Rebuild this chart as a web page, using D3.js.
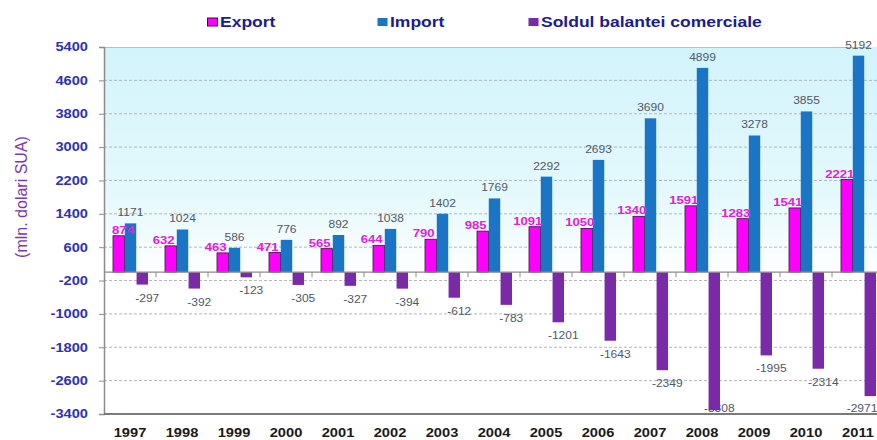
<!DOCTYPE html>
<html>
<head>
<meta charset="utf-8">
<script src="https://cdn.jsdelivr.net/npm/d3@7"></script>
<style>
body{margin:0;background:#fff;overflow:hidden;}
svg{display:block;font-family:Arial,"Liberation Sans",sans-serif;}
</style>
</head>
<body>
<svg id="chart" width="877" height="440"></svg>
<script>
let years=["1997","1998","1999","2000","2001","2002","2003","2004","2005","2006","2007","2008","2009","2010","2011"];
let exportVals=[874,632,463,471,565,644,790,985,1091,1050,1340,1591,1283,1541,2221];
let importVals=[1171,1024,586,776,892,1038,1402,1769,2292,2693,3690,4899,3278,3855,5192];
let soldVals=[-297,-392,-123,-305,-327,-394,-612,-783,-1201,-1643,-2349,-3308,-1995,-2314,-2971];
let yTicks=[-3400,-2600,-1800,-1000,-200,600,1400,2200,3000,3800,4600,5400];
let seriesNames=["Export","Import","Soldul balantei comerciale"];
let colors=["#ff00ff","#1a75c6","#7a2aa6"];

let svg=d3.select("#chart");
let plotL=104,plotT=47,plotB=414;

// the original picture is a bit wider than tall, so texts get widened
function widen(sel,k){
  sel.each(function(){
    let len=this.getComputedTextLength();
    d3.select(this).attr("textLength",len*k).attr("lengthAdjust","spacingAndGlyphs");
  });
}

let x=d3.scaleBand().domain(years).range([plotL,plotL+15*52]).padding(0);
let sub=d3.scaleBand().domain([0,1,2]).range([9,44]).paddingInner(0.03);
let y=d3.scaleLinear().domain([-3400,5400]).range([plotB,plotT]);

// background gradient
let defs=svg.append("defs");
let grad=defs.append("linearGradient").attr("id","bg").attr("x1",0).attr("y1",0).attr("x2",0).attr("y2",1);
grad.append("stop").attr("offset","0%").attr("stop-color","#d2f4fb");
grad.append("stop").attr("offset","40%").attr("stop-color","#e4f9fc");
grad.append("stop").attr("offset","62%").attr("stop-color","#ffffff");
svg.append("rect").attr("x",plotL).attr("y",plotT).attr("width",877-plotL).attr("height",plotB-plotT).attr("fill","url(#bg)");

// grid
svg.append("g").selectAll("line").data(yTicks.slice(1,-1)).enter().append("line")
  .attr("x1",plotL).attr("x2",877).attr("y1",d=>y(d)).attr("y2",d=>y(d))
  .attr("stroke","#b4b8bc").attr("stroke-dasharray","3,2").attr("stroke-width",1);
svg.append("line").attr("x1",plotL).attr("x2",870).attr("y1",plotT+0.5).attr("y2",plotT+0.5).attr("stroke","#bdbdbd");

// y axis
let yAxis=svg.append("g").attr("transform",`translate(${plotL},0)`)
  .call(d3.axisLeft(y).tickValues(yTicks).tickSize(5).tickPadding(11).tickFormat(d=>String(d)));
yAxis.select(".domain").attr("stroke","#8c8c8c").attr("stroke-width",1.5);
yAxis.selectAll(".tick line").attr("stroke","#8c8c8c");
yAxis.selectAll("text").attr("fill","#2e32b0").style("font-size","12px").style("font-weight","bold");
widen(yAxis.selectAll("text"),1.22);

svg.append("text").text("(mln. dolari SUA)")
  .attr("transform","translate(27,197) rotate(-90)").attr("text-anchor","middle")
  .attr("fill","#7a3aa8").style("font-size","16px");

// balance labels sit behind the bars, as in the original
let balLab=svg.append("g").selectAll("text").data(years).enter().append("text").text((d,i)=>soldVals[i])
  .attr("x",(d,i)=>Math.min(x(d)+sub(2)+sub.bandwidth()/2+5,862))
  .attr("y",(d,i)=>Math.min(y(soldVals[i])+17,412))
  .attr("text-anchor","middle").attr("fill","#505866").style("font-size","10px");
widen(balLab,1.2);

// bars
let groups=svg.append("g").selectAll("g").data(years).enter().append("g")
  .attr("transform",d=>`translate(${x(d)},0)`);
groups.append("rect").attr("x",sub(0)).attr("width",sub.bandwidth())
  .attr("y",(d,i)=>y(exportVals[i])).attr("height",(d,i)=>y(0)-y(exportVals[i]))
  .attr("fill",colors[0]).attr("stroke","#3a0a3a").attr("stroke-width",0.8);
groups.append("rect").attr("x",sub(1)).attr("width",sub.bandwidth())
  .attr("y",(d,i)=>y(importVals[i])).attr("height",(d,i)=>y(0)-y(importVals[i]))
  .attr("fill",colors[1]);
groups.append("rect").attr("x",sub(2)).attr("width",sub.bandwidth())
  .attr("y",y(0)).attr("height",(d,i)=>y(soldVals[i])-y(0))
  .attr("fill",colors[2]);

// zero line with category ticks
svg.append("line").attr("x1",plotL).attr("x2",877).attr("y1",y(0)).attr("y2",y(0)).attr("stroke","#8c8c8c").attr("stroke-width",1.2);
svg.append("g").selectAll("line").data(years.slice(1)).enter().append("line")
  .attr("x1",d=>x(d)).attr("x2",d=>x(d)).attr("y1",y(0)).attr("y2",y(0)+5).attr("stroke","#8c8c8c");

// labels
let expLab=groups.append("text").text((d,i)=>exportVals[i])
  .attr("x",d=>Math.max(sub(0)+sub.bandwidth()/2-7,plotL+19-x(d))).attr("y",(d,i)=>y(exportVals[i])-2)
  .attr("text-anchor","middle").attr("fill","#e020d8").style("font-size","10.5px").style("font-weight","bold");
widen(expLab,1.25);
let impLab=groups.append("text").text((d,i)=>importVals[i])
  .attr("x",sub(1)+sub.bandwidth()/2).attr("y",(d,i)=>y(importVals[i])-7)
  .attr("text-anchor","middle").attr("fill","#505866").style("font-size","10px");
widen(impLab,1.2);

// bottom axis
svg.append("line").attr("x1",plotL).attr("x2",877).attr("y1",plotB).attr("y2",plotB).attr("stroke","#7a7a7a").attr("stroke-width",2);
let yearLab=svg.append("g").selectAll("text").data(years).enter().append("text").text(d=>d)
  .attr("x",d=>x(d)+x.bandwidth()/2).attr("y",437).attr("text-anchor","middle")
  .attr("fill","#1a1a1a").style("font-size","12px").style("font-weight","bold");
widen(yearLab,1.22);

// legend
let legX=[207,377,528];
let leg=svg.append("g").selectAll("g").data(seriesNames).enter().append("g")
  .attr("transform",(d,i)=>`translate(${legX[i]},0)`);
leg.append("rect").attr("x",0.5).attr("y",18).attr("width",10).attr("height",8)
  .attr("fill",(d,i)=>colors[i]).attr("stroke",(d,i)=>i==0?"#3a0a3a":"none");
let legText=leg.append("text").text(d=>d).attr("x",13).attr("y",27)
  .attr("fill","#1c1c8a").style("font-size","14px").style("font-weight","bold");
widen(legText,1.25);
</script>
</body>
</html>
